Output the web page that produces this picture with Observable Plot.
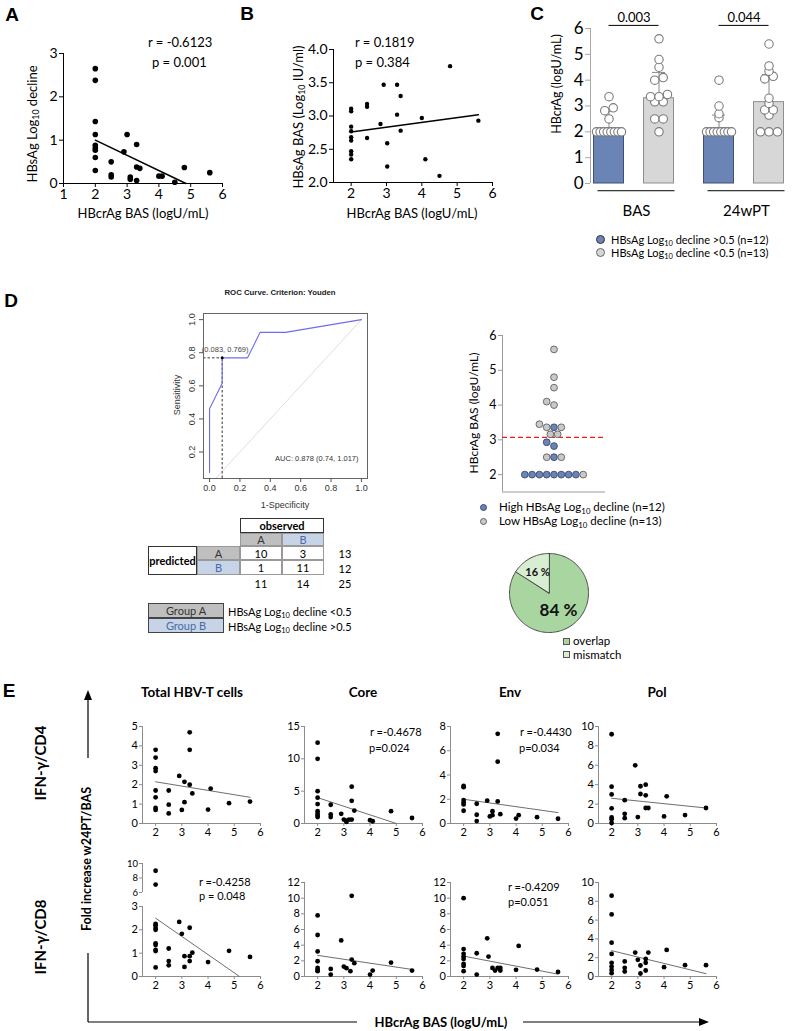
<!DOCTYPE html>
<html><head><meta charset="utf-8">
<script src="https://cdn.jsdelivr.net/npm/d3@7"></script>
<script src="https://cdn.jsdelivr.net/npm/@observablehq/plot@0.6"></script>
<style>
html,body{margin:0;padding:0;background:#fff;}
#page{position:relative;width:796px;height:1031px;overflow:hidden;background:#fff;}
#page sub{font-size:0.68em;vertical-align:-0.3em;line-height:0;}
</style></head>
<body><div id="page"></div>
<script>
// ---------------- DATA ----------------
// Panel A: HBcrAg BAS vs HBsAg log10 decline
const aX = [2,2,2,2,2,2,2,2,2, 2.5,2.5,2.5, 2.9, 3.0, 3.1,3.1, 3.3,3.3,3.3, 3.4, 4.0, 4.1, 4.5, 4.8, 5.6];
const aY = [2.65,2.38,1.43,1.13,0.88,0.82,0.77,0.6,0.3, 0.5,0.2,0.15, 0.73, 1.13, 0.15,0.1, 0.9,0.38,0.07, 0.35, 0.17,0.17, 0.03, 0.37, 0.25];
const aFitX = [2, 4.85], aFitY = [1.0, 0];
const aStats = ["r = -0.6123", "p = 0.001"];
// Panel B: HBcrAg BAS vs HBsAg BAS
const bX = [2,2,2,2,2,2,2,2,2, 2.45,2.45,2.45, 2.83, 2.92, 3.02,3.02, 3.3,3.4,3.3,3.4, 4.0,4.1, 4.5, 4.8, 5.6];
const bY = [3.11,3.07,2.84,2.77,2.68,2.63,2.47,2.42,2.35, 3.18,3.14,2.67, 2.88, 3.47, 2.59,2.24, 3.47,3.3,3.02,2.78, 2.97,2.35, 2.1, 3.75, 2.93];
const bFitX = [2, 5.6], bFitY = [2.76, 3.02];
const bStats = ["r = 0.1819", "p = 0.384"];
// Panel C
const cTimes = ["BAS", "24wPT"];
const cGroups = ["hi", "lo"];
const cHiBAS = [2,2,2,2,2,2,2,2, 2.5, 2.82, 2.93, 3.36];
const cLoBAS = [2, 2.5, 2.5, 3.16, 3.16, 3.36, 3.36, 3.45, 4.0, 4.1, 4.5, 4.8, 5.6];
const cHi24 = [2,2,2,2,2,2,2,2, 2.55, 2.7, 3.0, 4.0];
const cLo24 = [2,2,2, 2.65, 2.85, 2.85, 3.1, 3.3, 4.05, 4.15, 4.35, 4.55, 5.4];
const cBarMed = [2.0, 3.3, 2.0, 3.15];
const cBarSD = [2.8, 4.3, 2.65, 4.22];
const cPvals = ["0.003", "0.044"];
const cLegend = ["HBsAg Log<sub>10</sub> decline &gt;0.5 (n=12)", "HBsAg Log<sub>10</sub> decline &lt;0.5 (n=13)"];
// Panel D: ROC
const rocFPR = [0, 0, 0.083, 0.083, 0.25, 0.333, 0.5, 1];
const rocTPR = [0.077, 0.462, 0.615, 0.769, 0.769, 0.923, 0.923, 1];
const rocRef = [0, 1];
const rocXTicks = [0, 0.2, 0.4, 0.6, 0.8, 1];
const rocYTicks = [0.2, 0.4, 0.6, 0.8, 1];
const youden = {fpr: 0.083, tpr: 0.769};
const aucText = "AUC: 0.878 (0.74, 1.017)";
// Panel D: dot plot
const dHigh = [2,2,2,2,2,2,2,2, 2.5, 2.82, 2.93, 3.36];
const dLow = [2, 2.5, 2.5, 3.16, 3.16, 3.36, 3.36, 3.45, 4.0, 4.1, 4.5, 4.8, 5.6];
const dCut = 3.07;
const dLegend = ["High HBsAg Log<sub>10</sub> decline (n=12)", "Low HBsAg Log<sub>10</sub> decline (n=13)"];
// Panel D: pie
const pieLabels = ["overlap", "mismatch"];
const pieValues = [84, 16];
// Panel D: table
const tblLabels = ["A", "B"];
const tblRowA = [10, 3];
const tblRowB = [1, 11];
const grpText = ["HBsAg Log<sub>10</sub> decline &lt;0.5", "HBsAg Log<sub>10</sub> decline &gt;0.5"];
// Panel E
const eCols = ["Total HBV-T cells", "Core", "Env", "Pol"];
const eRows = ["IFN-γ/CD4", "IFN-γ/CD8"];
const eTotCD4X = [2,2,2,2,2,2,2,2, 2.5,2.5,2.5, 2.9, 3.0, 3.1,3.1, 3.3,3.3,3.3, 3.4, 4.0, 4.1, 4.8, 5.6];
const eTotCD4Y = [3.8,3.4,2.85,2.7,1.7,1.35,0.8,0.7, 1.7,0.97,0.52, 2.45, 0.7, 2.15,1.1, 4.7,3.8,2.0, 1.55, 0.72, 1.8, 1.05, 1.13];
const eTotCD4Fit = [2.15, 1.35];
const eCoreCD4X = [2,2,2,2,2,2,2,2,2, 2.5,2.5,2.5, 2.9, 3.0, 3.1,3.1, 3.2, 3.3,3.3,3.3, 3.4, 4.0, 4.1, 4.8, 5.6];
const eCoreCD4Y = [12.5,10.0,5.0,4.0,3.0,1.9,1.5,1.2,1.0, 2.9,1.4,1.0, 1.5, 0.6, 0.45,0.25, 0.6, 5.7,3.5,0.6, 2.0, 0.5, 0.35, 1.9, 0.85];
const eCoreCD4FitX = [2, 5.0], eCoreCD4Fit = [4.0, 0];
const eEnvCD4X = [2,2,2,2,2,2, 2.5,2.5,2.5, 2.9, 3.0, 3.1,3.1, 3.3,3.3,3.3, 3.4, 4.0, 4.1, 4.8, 5.6];
const eEnvCD4Y = [3.1,3.0,1.93,1.74,1.57,1.05, 1.63,0.72,0.2, 1.88, 0.58, 1.02,0.69, 7.4,5.1,1.82, 0.77, 0.41,0.69, 0.52, 0.39];
const eEnvCD4Fit = [2.0, 0.9];
const ePolCD4X = [2,2,2,2,2,2,2, 2.5,2.5,2.5, 2.9, 3.0, 3.1,3.1, 3.3,3.3,3.3, 3.4, 4.0, 4.1, 4.8, 5.6];
const ePolCD4Y = [9.2,3.8,3.0,1.56,0.62,0.45,0.05, 2.4,1.0,0.55, 6.0, 0.66, 3.84,3.04, 4.0,2.9,1.6, 1.6, 0.73, 2.8, 0.87, 1.6];
const ePolCD4Fit = [2.6, 1.6];
const eTotCD8X = [2,2, 2,2,2,2,2,2,2,2,2, 2.5,2.5,2.5, 2.9, 3.0, 3.1,3.1, 3.3,3.3,3.3, 3.4, 4.0, 4.8, 5.6];
const eTotCD8Y = [9.0,7.1, 2.25,2.2,2.08,2.0,1.42,1.35,1.14,1.09,0.39, 1.2,0.66,0.48, 2.34, 1.83, 0.87,0.41, 2.09,0.87,0.66, 1.02, 0.62, 1.1, 0.84];
const eTotCD8FitX = [2, 5.2], eTotCD8Fit = [2.5, 0];
const eCoreCD8X = [2,2,2,2,2,2,2, 2.5,2.5, 2.9, 3.0, 3.1, 3.25, 3.3,3.3, 3.4, 4.0, 4.1, 4.8, 5.6];
const eCoreCD8Y = [7.8,5.3,3.2,1.95,1.1,0.85,0.68, 0.97,0.25, 4.6, 1.27, 1.06, 0.68, 10.3,2.16, 1.7, 0.25, 0.76, 1.78, 0.76];
const eCoreCD8Fit = [2.7, 0.9];
const eEnvCD8X = [2,2,2,2,2,2,2,2, 2.5,2.5, 2.9, 2.95, 3.1, 3.2, 3.3, 3.4,3.4, 4.0, 4.1, 4.8, 5.6];
const eEnvCD8Y = [10.0,3.5,2.9,2.55,2.25,1.6,1.35,0.68, 2.97,0.25, 4.87, 2.55, 1.1, 0.76, 1.1, 0.76,1.1, 0.85, 3.9, 0.89, 0.59];
const eEnvCD8Fit = [2.6, 0.3];
const ePolCD8X = [2,2,2,2,2,2,2,2, 2.5,2.5,2.5, 2.9, 3.0, 3.1,3.1, 3.3,3.3,3.3, 3.4, 4.0, 4.1, 4.8, 5.6];
const ePolCD8Y = [8.6,6.6,3.6,2.4,1.45,1.06,0.7,0.35, 1.6,0.92,0.53, 2.54, 1.77, 1.17,0.32, 1.87,1.45,0.64, 2.54, 0.99, 2.83, 1.2, 1.2];
const ePolCD8Fit = [2.75, 0.3];
const eFitX = [2, 5.6];

// ---------------- HELPERS ----------------
const FONT = "Lato, 'Open Sans', sans-serif";
const ARIAL = "'Liberation Sans', Arial, sans-serif";
const BLUE = "#6a84b5", BLUE_S = "#3f5074", GRAY = "#d7d7d7", GRAY_S = "#8f8f8f";
const INT = d => d3.format("~g")(d);
const page = document.getElementById("page");

function put(node, left, top) {
  const d = document.createElement("div");
  d.style.position = "absolute";
  d.style.left = left + "px";
  d.style.top = top + "px";
  const w = node.getAttribute && node.getAttribute("width");
  if (w) d.style.width = w + "px";
  d.appendChild(node);
  page.appendChild(d);
  return d;
}
function txt(html, x, y, o = {}) {
  const d = document.createElement("div");
  d.innerHTML = html;
  const s = d.style;
  s.position = "absolute"; s.left = x + "px"; s.top = y + "px";
  s.whiteSpace = "nowrap"; s.lineHeight = "1";
  s.fontFamily = o.family || FONT; s.fontSize = (o.size || 12) + "px";
  s.fontWeight = o.weight || "normal"; s.color = o.color || "#000";
  const ax = o.anchor === "start" ? "0" : o.anchor === "end" ? "-100%" : "-50%";
  s.transform = `translate(${ax},-50%)` + (o.rotate ? ` rotate(${o.rotate}deg)` : "");
  page.appendChild(d);
  return d;
}
function box(x1, y1, x2, y2, html, o = {}) {
  const d = document.createElement("div");
  d.innerHTML = html;
  const s = d.style;
  s.position = "absolute"; s.left = x1 + "px"; s.top = y1 + "px";
  s.width = (x2 - x1) + "px"; s.height = (y2 - y1) + "px"; s.boxSizing = "border-box";
  s.border = o.border || "1px solid #555"; s.background = o.bg || "#fff";
  s.display = "flex"; s.alignItems = "center"; s.justifyContent = "center";
  s.fontFamily = FONT; s.fontSize = (o.size || 11) + "px"; s.fontWeight = o.weight || "normal";
  s.color = o.color || "#000";
  page.appendChild(d);
  return d;
}
function zip(xs, ys) { return xs.map((x, i) => ({x, y: ys[i]})); }

function scatter(o) {
  const mL = 44, mR = 14, mT = 10, mB = 26;
  const axis = o.axis || "#000";
  const marks = [
    Plot.ruleX([o.xDomain[0]], {stroke: axis}),
    Plot.axisY({ticks: o.yTicks, tickSize: o.tick ?? 4, tickPadding: o.pad ?? 2, tickFormat: o.yFmt || INT, label: null, stroke: axis, fill: "#000", fontSize: o.yfs})
  ];
  if (!o.noX) {
    marks.push(Plot.ruleY([o.yDomain[0]], {stroke: axis}));
    marks.push(Plot.axisX({ticks: o.xTicks, tickSize: o.tick ?? 4, tickPadding: o.pad ?? 2, tickFormat: INT, label: null, stroke: axis, fill: "#000"}));
  }
  if (o.lx) marks.push(Plot.line(zip(o.lx, o.ly), {x: "x", y: "y", stroke: o.lineColor || "#000", strokeWidth: o.lineW || 1}));
  marks.push(Plot.dot(o.pts, {x: "x", y: "y", r: o.r || 2.5, fill: "#000"}));
  const p = Plot.plot({
    width: o.w + mL + mR, height: o.h + mT + mB,
    marginLeft: mL, marginRight: mR, marginTop: mT, marginBottom: mB,
    x: {domain: o.xDomain, axis: o.noX ? null : undefined},
    y: {domain: o.yDomain},
    style: {fontFamily: o.family || FONT, fontSize: (o.fs || 11) + "px", color: "#000", background: "transparent", overflow: "visible"},
    marks
  });
  put(p, o.left - mL, o.top - mT);
}
function range(a, b, s) { const r = []; for (let v = a; v <= b + 1e-9; v += s) r.push(+v.toFixed(6)); return r; }

// ---------------- PANEL LETTERS ----------------
[["A", 12, 14], ["B", 247, 13], ["C", 537, 13], ["D", 11, 300], ["E", 9, 690]].forEach(([t, x, y]) =>
  txt(t, x, y, {size: 19, weight: "bold", family: ARIAL}));

// ---------------- PANEL A ----------------
scatter({pts: zip(aX, aY), lx: aFitX, ly: aFitY, xDomain: [1, 6], yDomain: [0, 3],
  xTicks: [1, 2, 3, 4, 5, 6], yTicks: [0, 1, 2, 3], left: 63, top: 53, w: 159, h: 130,
  r: 2.8, fs: 14, lineW: 1.5, tick: 4});
txt("HBsAg Log<sub>10</sub> decline", 32, 124, {size: 13, rotate: -90});
txt("HBcrAg BAS (logU/mL)", 143, 213, {size: 13});
txt(aStats[0], 148, 42, {size: 13, anchor: "start"});
txt(aStats[1], 152, 62, {size: 13, anchor: "start"});

// ---------------- PANEL B ----------------
scatter({pts: zip(bX, bY), lx: bFitX, ly: bFitY, xDomain: [1.5, 6], yDomain: [2, 4],
  xTicks: [2, 3, 4, 5, 6], yTicks: [2, 2.5, 3, 3.5, 4], yFmt: ".1f", left: 333, top: 49, w: 159, h: 133,
  r: 2.2, fs: 14, lineW: 1.5, tick: 4});
txt("HBsAg BAS (Log<sub>10</sub> IU/ml)", 298, 117, {size: 13, rotate: -90});
txt("HBcrAg BAS (logU/mL)", 412, 213, {size: 13});
txt(bStats[0], 355, 42, {size: 13, anchor: "start"});
txt(bStats[1], 355, 62, {size: 13, anchor: "start"});

// ---------------- PANEL C ----------------
(function () {
  const pos = (ti, gi) => ti * 2.2 + gi;
  const seriesVals = [cHiBAS, cLoBAS, cHi24, cLo24];
  const bars = [], dots = [];
  cTimes.forEach((t, ti) => cGroups.forEach((g, gi) => {
    const k = ti * 2 + gi, p = pos(ti, gi);
    bars.push({p, g, med: cBarMed[k], sd: cBarSD[k]});
    // simple swarm: cluster close values and spread them horizontally
    const s = [...seriesVals[k]].sort((a, b) => a - b);
    let cl = [s[0]];
    const flush = () => {
      const n = cl.length, st = n > 1 ? Math.min(0.17, 0.5 / (n - 1)) : 0;
      cl.forEach((v, j) => dots.push({x: p + (j - (n - 1) / 2) * st, v}));
    };
    for (let i = 1; i < s.length; i++) {
      if (s[i] - cl[cl.length - 1] < 0.14) cl.push(s[i]); else { flush(); cl = [s[i]]; }
    }
    flush();
  }));
  const sig = cTimes.map((t, ti) => ({x1: pos(ti, 0), x2: pos(ti, 1), label: cPvals[ti]}));
  const grp = cTimes.map((t, ti) => ({x1: pos(ti, 0) - 0.22, x2: pos(ti, 1) + 0.32, t}));
  const mL = 40, mR = 8, mT = 30, mB = 40;
  const p = Plot.plot({
    width: 200 + mL + mR, height: 155 + mT + mB, marginLeft: mL, marginRight: mR, marginTop: mT, marginBottom: mB,
    x: {domain: [-0.37, 3.63], axis: null}, y: {domain: [0, 6]},
    color: {domain: cGroups, range: [BLUE, GRAY]},
    style: {fontFamily: FONT, fontSize: "17px", color: "#000", background: "transparent", overflow: "visible"},
    marks: [
      Plot.ruleX([-0.37], {stroke: "#a8a8a8"}),
      Plot.axisY({ticks: [0, 1, 2, 3, 4, 5, 6], tickFormat: INT, tickSize: 5, tickPadding: 2, label: null, stroke: "#a8a8a8", fill: "#000"}),
      Plot.rect(bars, {x1: d => d.p - 0.3, x2: d => d.p + 0.3, y1: 0, y2: "med", fill: "g", stroke: d => d.g === "hi" ? BLUE_S : GRAY_S}),
      Plot.ruleX(bars, {x: "p", y1: "med", y2: "sd", stroke: "#8a8a8a"}),
      Plot.ruleY(bars, {x1: d => d.p - 0.13, x2: d => d.p + 0.13, y: "sd", stroke: "#8a8a8a"}),
      Plot.dot(dots, {x: "x", y: "v", r: 4.2, fill: "#fff", stroke: "#7a7a7a", strokeWidth: 1.1}),
      Plot.ruleY(sig, {x1: "x1", x2: "x2", y: 6.12, stroke: "#000"}),
      Plot.text(sig, {x: d => (d.x1 + d.x2) / 2, y: 6.12, text: "label", dy: -8, fontSize: 13}),
      Plot.ruleY(grp, {x1: "x1", x2: "x2", y: -0.28, stroke: "#000"}),
      Plot.text(grp, {x: d => (d.x1 + d.x2) / 2, y: -0.28, text: "t", dy: 20, fontSize: 15})
    ]
  });
  put(p, 590 - mL, 28 - mT);
})();
txt("HBcrAg (logU/mL)", 557, 84, {size: 12.5, rotate: -90});
[[BLUE, "#333"], [GRAY, "#666"]].forEach(([f, s], i) => {
  const c = document.createElement("div");
  Object.assign(c.style, {position: "absolute", left: "596px", top: (234.5 + i * 13.3) + "px", width: "9px", height: "9px", borderRadius: "50%", background: f, border: "1px solid " + s, boxSizing: "border-box"});
  page.appendChild(c);
  txt(cLegend[i], 611, 239 + i * 13.3, {size: 11, anchor: "start"});
});

// ---------------- PANEL D: ROC ----------------
(function () {
  const mL = 30, mR = 6, mT = 6, mB = 30;
  const xd = [-0.04, 1.04], yd = [0.04, 1.037];
  const roc = zip(rocFPR, rocTPR);
  const p = Plot.plot({
    width: 164 + mL + mR, height: 165 + mT + mB, marginLeft: mL, marginRight: mR, marginTop: mT, marginBottom: mB,
    x: {domain: xd}, y: {domain: yd},
    style: {fontFamily: ARIAL, fontSize: "9px", color: "#333", background: "transparent", overflow: "visible"},
    marks: [
      Plot.line(zip(rocRef, rocRef), {x: "x", y: "y", stroke: "#dadada", strokeWidth: 0.9, clip: true}),
      Plot.ruleY([youden], {x1: xd[0], x2: "fpr", y: "tpr", stroke: "#000", strokeDasharray: "2.5,2", strokeWidth: 0.8}),
      Plot.ruleX([youden], {x: "fpr", y1: yd[0], y2: "tpr", stroke: "#000", strokeDasharray: "2.5,2", strokeWidth: 0.8}),
      Plot.line(roc, {x: "x", y: "y", stroke: "#6d6df0", strokeWidth: 1.1}),
      Plot.dot([youden], {x: "fpr", y: "tpr", r: 1.5, fill: "#000"}),
      Plot.text([youden], {x: "fpr", y: "tpr", text: d => `(${d.fpr}, ${d.tpr})`, dy: -8, dx: 3, fontSize: 7.5, fill: "#444"}),
      Plot.text([aucText], {frameAnchor: "bottom-right", text: d => d, dx: -9, dy: -18, textAnchor: "end", fontSize: 7.5, fill: "#333"}),
      Plot.frame({stroke: "#666"}),
      Plot.axisX({ticks: rocXTicks, tickFormat: ".1f", tickSize: 4, tickPadding: 2, label: null, stroke: "#555"}),
      Plot.axisY({ticks: rocYTicks, tickFormat: () => "", tickSize: 4, tickPadding: 0, label: null, stroke: "#555"}),
      Plot.text(rocYTicks, {x: xd[0], y: d => d, text: d => d3.format(".1f")(d), rotate: -90, dx: -11, fontSize: 9, fill: "#333"})
    ]
  });
  put(p, 203 - mL, 313 - mT);
})();
txt("ROC Curve. Criterion: Youden", 280, 293, {size: 7.8, weight: "bold", family: ARIAL, color: "#222"});
txt("Sensitivity", 177, 395, {size: 9, family: ARIAL, rotate: -90, color: "#333"});
txt("1-Specificity", 285, 505, {size: 9, family: ARIAL, color: "#333"});

// ---------------- PANEL D: table ----------------
(function () {
  const hdrBg = ["#bfbfbf", "#c7d4e8"], hdrCol = ["#333", "#4a6aa5"];
  const colX = [[240, 282], [282, 324]];
  box(240, 518, 324, 533, "observed", {weight: "bold", border: "1px solid #333"});
  tblLabels.forEach((l, i) => box(colX[i][0], 533, colX[i][1], 546, l, {bg: hdrBg[i], color: hdrCol[i], border: "1px solid #999"}));
  box(148, 546, 197, 575, "predicted", {weight: "bold", border: "1px solid #333"});
  const rowY = [[546, 560], [560, 575]];
  tblLabels.forEach((l, i) => box(197, rowY[i][0], 240, rowY[i][1], l, {bg: hdrBg[i], color: hdrCol[i], border: "1px solid #999"}));
  [tblRowA, tblRowB].forEach((row, ri) => {
    row.forEach((v, ci) => box(colX[ci][0], rowY[ri][0], colX[ci][1], rowY[ri][1], String(v), {border: "1px solid #999", size: 11}));
    txt(String(d3.sum(row)), 345, (rowY[ri][0] + rowY[ri][1]) / 2, {size: 11});
  });
  tblLabels.forEach((l, ci) => txt(String(tblRowA[ci] + tblRowB[ci]), (colX[ci][0] + colX[ci][1]) / 2, 583, {size: 11}));
  txt(String(d3.sum(tblRowA) + d3.sum(tblRowB)), 345, 583, {size: 11});
  // group legend
  ["Group A", "Group B"].forEach((g, i) => {
    box(148, 603 + i * 15, 224, 618 + i * 15, g, {bg: hdrBg[i], color: hdrCol[i], border: "1px solid #444", size: 11});
    txt(grpText[i], 228, 610.5 + i * 15, {size: 11, anchor: "start"});
  });
})();

// ---------------- PANEL D: dot plot ----------------
(function () {
  const pxPerUnit = 156.5 / 4.5, diam = 7.3;
  const vals = [...dHigh.map(v => ({v, g: "high"})), ...dLow.map(v => ({v, g: "low"}))];
  const placed = [];
  vals.forEach(d => {
    const y = d.v * pxPerUnit;
    let best = null;
    for (let k = 0; k < 60 && best === null; k++) {
      for (const sg of (k === 0 ? [1] : [-1, 1])) {
        const x = sg * k * diam / 2;
        if (placed.every(p => (p.x - x) ** 2 + (p.y - y) ** 2 >= diam * diam - 0.01)) { best = x; break; }
      }
    }
    placed.push({x: best, y});
    d.x = best;
  });
  const mL = 30, mR = 10, mT = 10, mB = 10;
  const p = Plot.plot({
    width: 103 + mL + mR, height: 156.5 + mT + mB, marginLeft: mL, marginRight: mR, marginTop: mT, marginBottom: mB,
    x: {domain: [-51.5, 51.5], axis: null}, y: {domain: [1.5, 6]},
    color: {domain: ["high", "low"], range: [BLUE, "#c9c9c9"]},
    style: {fontFamily: FONT, fontSize: "12.5px", color: "#000", background: "transparent", overflow: "visible"},
    marks: [
      Plot.ruleX([-51.5], {stroke: "#9a9a9a"}),
      Plot.ruleY([1.5], {stroke: "#9a9a9a"}),
      Plot.axisY({ticks: [2, 3, 4, 5, 6], tickFormat: INT, tickSize: 4, tickPadding: 2, label: null, stroke: "#9a9a9a", fill: "#000"}),
      Plot.ruleY([dCut], {stroke: "#ee1c1c", strokeDasharray: "5,3", strokeWidth: 1.3}),
      Plot.dot(vals, {x: "x", y: "v", r: 3.4, fill: "g", stroke: d => d.g === "high" ? "#3a4a6e" : "#606060", strokeWidth: 0.9})
    ]
  });
  put(p, 502 - mL, 335 - mT);
})();
txt("HBcrAg BAS (logU/mL)", 474, 413, {size: 12, rotate: -90});
[[BLUE, "#3a4a6e"], ["#c9c9c9", "#606060"]].forEach(([f, s], i) => {
  const c = document.createElement("div");
  Object.assign(c.style, {position: "absolute", left: (483 - 3.5) + "px", top: (507 + i * 14 - 3.5) + "px", width: "7px", height: "7px", borderRadius: "50%", background: f, border: "1px solid " + s, boxSizing: "border-box"});
  page.appendChild(c);
  txt(dLegend[i], 499, 507 + i * 14, {size: 11.5, anchor: "start"});
});

// ---------------- PANEL D: pie ----------------
(function () {
  const fills = ["#a9d5a1", "#d8eed3"];
  const total = d3.sum(pieValues);
  let a0 = 0;
  const slices = pieValues.map((v, i) => {
    const a1 = a0 + v / total * 2 * Math.PI;
    const pts = [{x: 0, y: 0}];
    const n = Math.max(4, Math.ceil((a1 - a0) / 0.03));
    for (let j = 0; j <= n; j++) { const a = a0 + (a1 - a0) * j / n; pts.push({x: Math.sin(a), y: Math.cos(a)}); }
    const mid = (a0 + a1) / 2;
    a0 = a1;
    return {pts, mid, i};
  });
  const lab = slices.map(s => ({x: Math.sin(s.mid) * (s.i === 0 ? 0.5 : 0.6), y: Math.cos(s.mid) * (s.i === 0 ? 0.5 : 0.6), t: pieValues[s.i] + " %", i: s.i}));
  const m = 3;
  const p = Plot.plot({
    width: 79 + 2 * m, height: 79 + 2 * m, margin: m,
    x: {domain: [-1, 1], axis: null}, y: {domain: [-1, 1], axis: null},
    style: {fontFamily: FONT, background: "transparent", overflow: "visible"},
    marks: [
      ...slices.map(s => Plot.line(s.pts, {x: "x", y: "y", curve: "linear-closed", fill: fills[s.i], stroke: "#4a4a4a", strokeWidth: 1})),
      Plot.text(lab.filter(d => d.i === 0), {x: "x", y: "y", text: "t", fontSize: 17, fontWeight: "bold", fill: "#111"}),
      Plot.text(lab.filter(d => d.i === 1), {x: "x", y: "y", text: "t", fontSize: 11, fontWeight: "bold", fill: "#111"})
    ]
  });
  put(p, 548 - 39.5 - m, 592.5 - 39.5 - m);
  pieLabels.forEach((l, i) => {
    const sq = document.createElement("div");
    Object.assign(sq.style, {position: "absolute", left: "563px", top: (637.5 + i * 13.5) + "px", width: "7px", height: "7px", background: fills[i], border: "1px solid #555", boxSizing: "border-box"});
    page.appendChild(sq);
    txt(l, 573, 641 + i * 13.5, {size: 11.5, anchor: "start"});
  });
})();

// ---------------- PANEL E ----------------
const colLeft = [142, 304, 450, 598];
const eW = 118;
const eBase = {xDomain: [1.5, 6], xTicks: [2, 3, 4, 5, 6], w: eW, r: 2.4, fs: 11, lineColor: "#6e6e6e", lineW: 1, axis: "#8c8c8c", tick: 3, pad: 1.5};
// top row (CD4)
scatter({...eBase, pts: zip(eTotCD4X, eTotCD4Y), lx: eFitX, ly: eTotCD4Fit, yDomain: [0, 5], yTicks: range(0, 5, 1), left: colLeft[0], top: 726, h: 97});
scatter({...eBase, pts: zip(eCoreCD4X, eCoreCD4Y), lx: eCoreCD4FitX, ly: eCoreCD4Fit, yDomain: [0, 15], yTicks: [0, 5, 10, 15], left: colLeft[1], top: 726, h: 97});
scatter({...eBase, pts: zip(eEnvCD4X, eEnvCD4Y), lx: eFitX, ly: eEnvCD4Fit, yDomain: [0, 8], yTicks: range(0, 8, 2), left: colLeft[2], top: 726, h: 97});
scatter({...eBase, pts: zip(ePolCD4X, ePolCD4Y), lx: eFitX, ly: ePolCD4Fit, yDomain: [0, 10], yTicks: range(0, 10, 2), left: colLeft[3], top: 726, h: 97});
// bottom row (CD8) — total has a broken axis
const totCD8 = zip(eTotCD8X, eTotCD8Y);
scatter({...eBase, pts: totCD8.filter(d => d.y > 4), yDomain: [6, 10], yTicks: [6, 8, 10], yfs: 9.5, left: colLeft[0], top: 863, h: 29, noX: true});
scatter({...eBase, pts: totCD8.filter(d => d.y <= 4), lx: eTotCD8FitX, ly: eTotCD8Fit, yDomain: [0, 3], yTicks: [0, 1, 2, 3], left: colLeft[0], top: 906, h: 70});
scatter({...eBase, pts: zip(eCoreCD8X, eCoreCD8Y), lx: eFitX, ly: eCoreCD8Fit, yDomain: [0, 12], yTicks: range(0, 12, 2), left: colLeft[1], top: 882, h: 94});
scatter({...eBase, pts: zip(eEnvCD8X, eEnvCD8Y), lx: eFitX, ly: eEnvCD8Fit, yDomain: [0, 12], yTicks: range(0, 12, 2), left: colLeft[2], top: 882, h: 94});
scatter({...eBase, pts: zip(ePolCD8X, ePolCD8Y), lx: eFitX, ly: ePolCD8Fit, yDomain: [0, 10], yTicks: range(0, 10, 2), left: colLeft[3], top: 882, h: 94});

// titles
[192, 363, 510, 657].forEach((x, i) => txt(eCols[i], x, 693, {size: 13.5, weight: "bold"}));
txt(eRows[0], 40, 763, {size: 15, weight: "bold", rotate: -90});
txt(eRows[1], 40, 937, {size: 15, weight: "bold", rotate: -90});
txt("Fold increase w24PT/BAS", 87, 859, {size: 12.5, weight: "bold", rotate: -90});
txt("HBcrAg BAS (logU/mL)", 441, 1022, {size: 13, weight: "bold"});
// stats
[["r =-0.4678", 370, 731], ["p=0.024", 369, 747], ["r =-0.4430", 520, 731], ["p=0.034", 519, 747],
 ["r =-0.4258", 199, 881], ["p = 0.048", 199, 895], ["r =-0.4209", 508, 886], ["p=0.051", 508, 901]]
  .forEach(([t, x, y]) => txt(t, x, y, {size: 11, anchor: "start"}));

// axis arrows (decoration)
(function () {
  const svg = d3.create("svg").attr("width", 796).attr("height", 1031)
    .style("position", "absolute").style("left", "0px").style("top", "0px").style("pointer-events", "none");
  const g = svg.append("g").attr("stroke", "#000").attr("stroke-width", 1.2).attr("fill", "none");
  g.append("line").attr("x1", 88).attr("x2", 88).attr("y1", 758).attr("y2", 698);
  g.append("line").attr("x1", 88).attr("x2", 88).attr("y1", 953).attr("y2", 1022);
  g.append("line").attr("x1", 88).attr("x2", 357).attr("y1", 1022).attr("y2", 1022);
  g.append("line").attr("x1", 523).attr("x2", 700).attr("y1", 1022).attr("y2", 1022);
  svg.append("path").attr("d", "M88,690 L84,700 L92,700 Z").attr("fill", "#000");
  svg.append("path").attr("d", "M709,1022 L699,1018 L699,1026 Z").attr("fill", "#000");
  page.appendChild(svg.node());
})();
</script></body></html>
